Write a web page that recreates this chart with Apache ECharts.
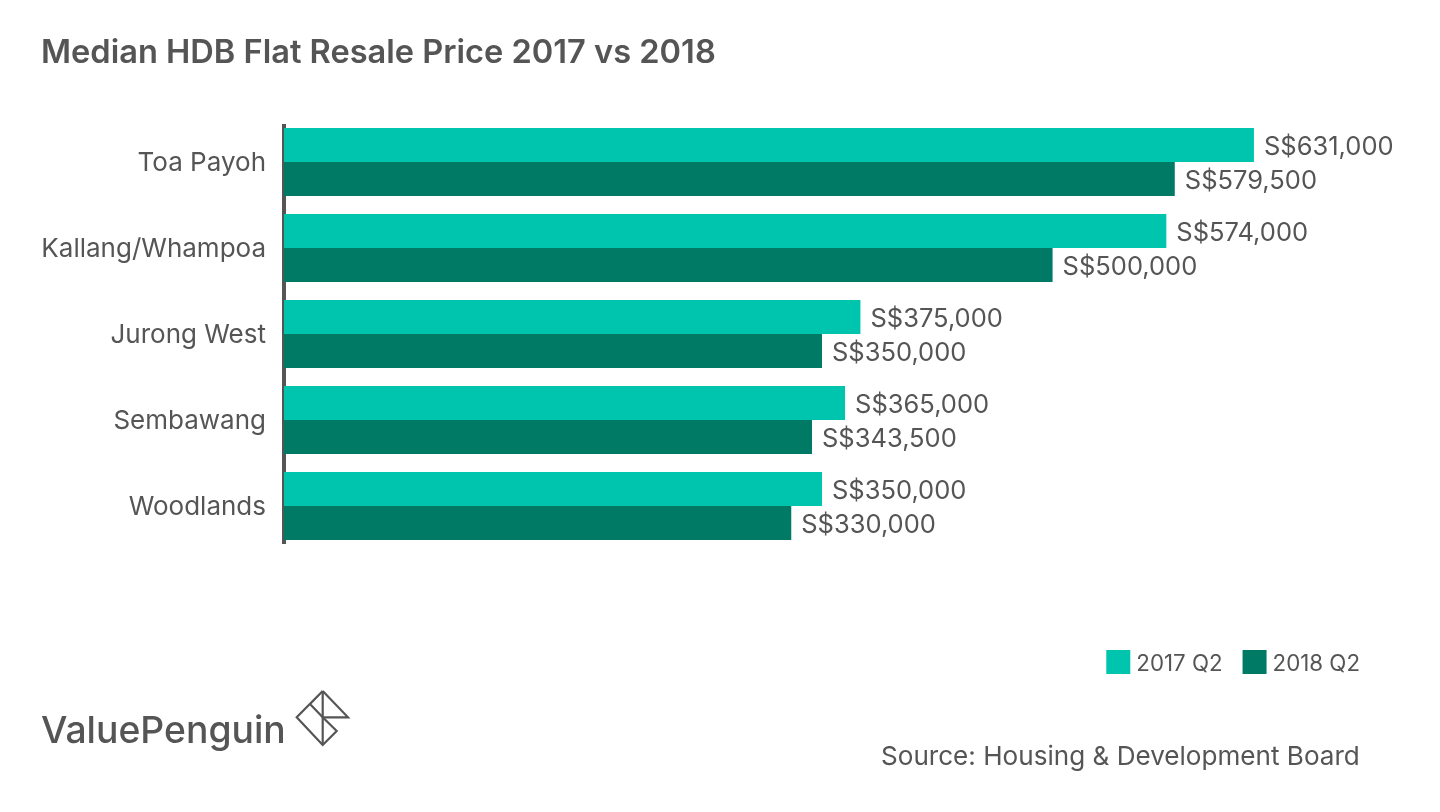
<!DOCTYPE html>
<html>
<head>
<meta charset="utf-8">
<style>html,body{margin:0;padding:0;background:#fff}#chart{width:1440px;height:812px}</style>
<script src="https://cdn.jsdelivr.net/npm/echarts@6/dist/echarts.min.js"></script>
</head>
<body>
<div id="chart"></div>
<script>
var categories = ['Toa Payoh', 'Kallang/Whampoa', 'Jurong West', 'Sembawang', 'Woodlands'];
var values2017 = [631000, 574000, 375000, 365000, 350000];
var values2018 = [579500, 500000, 350000, 343500, 330000];

var FONT = 'Inter';
var TEXT = '#555555';

var chart = echarts.init(document.getElementById('chart'));

function fmt(p) {
    return 'S$' + p.value.toLocaleString('en-US');
}

function barSeries(name, data, color) {
    return {
        name: name,
        type: 'bar',
        data: data,
        barWidth: 34,
        barGap: 0,
        itemStyle: {color: color},
        label: {
            show: true,
            position: 'right',
            distance: 10,
            offset: [0, 2],
            formatter: fmt,
            color: TEXT,
            fontFamily: FONT,
            fontSize: 25.5
        }
    };
}

chart.setOption({
    animation: false,
    backgroundColor: '#fff',
    title: {
        text: 'Median HDB Flat Resale Price 2017 vs 2018',
        left: 41,
        top: 37,
        padding: 0,
        textStyle: {color: TEXT, fontFamily: FONT, fontSize: 32.6, fontWeight: 600}
    },
    legend: {
        right: 80,
        top: 650,
        padding: 0,
        itemWidth: 24,
        itemHeight: 24,
        itemGap: 20,
        icon: 'rect',
        formatter: '{t|{name}}',
        textStyle: {
            color: TEXT,
            rich: {t: {color: TEXT, fontFamily: FONT, fontSize: 22.3, padding: [5, 0, 0, 1]}}
        },
        data: ['2017 Q2', '2018 Q2']
    },
    grid: {left: 284, top: 119, width: 1076, height: 430},
    xAxis: {type: 'value', min: 0, max: 700000, show: false},
    yAxis: {
        type: 'category',
        inverse: true,
        data: categories,
        axisLine: {show: false},
        axisTick: {show: false},
        axisLabel: {
            margin: 18,
            formatter: '{c|{value}}',
            rich: {c: {color: TEXT, fontFamily: FONT, fontSize: 26, padding: [3, 0, 0, 0]}}
        }
    },
    series: [
        barSeries('2017 Q2', values2017, '#00C5AE'),
        barSeries('2018 Q2', values2018, '#007A65')
    ],
    graphic: [
        {type: 'line', z: 1, shape: {x1: 284, y1: 124, x2: 284, y2: 544}, style: {stroke: '#555555', lineWidth: 4}},
        {type: 'text', left: 881, top: 744, style: {text: 'Source: Housing & Development Board', fill: TEXT, font: '26.1px ' + FONT}},
        {type: 'text', left: 41, top: 713, style: {text: 'ValuePenguin', fill: TEXT, font: '500 37.3px ' + FONT}},
        {type: 'polyline', shape: {points: [[322.7, 691], [348, 717.3], [322.7, 717.3]]}, style: {stroke: TEXT, lineWidth: 2.2, fill: 'none'}},
        {type: 'polygon', shape: {points: [[322.7, 691], [296.7, 717.3], [322.7, 745], [336.7, 731], [322.7, 717.3], [310, 704]]}, style: {stroke: TEXT, lineWidth: 2.2, fill: 'none'}},
        {type: 'line', shape: {x1: 322.7, y1: 691, x2: 322.7, y2: 745}, style: {stroke: TEXT, lineWidth: 2.2}}
    ]
});
</script>
</body>
</html>
